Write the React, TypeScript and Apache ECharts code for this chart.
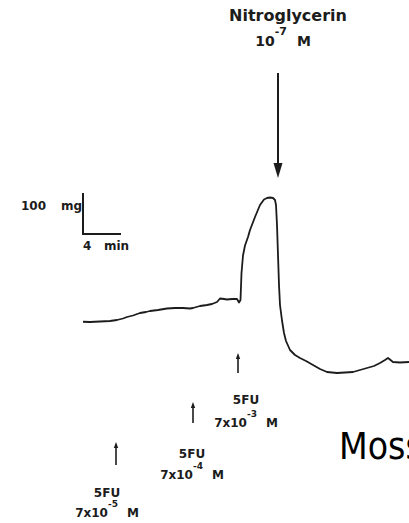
import React, { useEffect, useRef } from "react";
import * as echarts from "echarts";

// Trace: time (min) and tension (mg, relative to the post-nitroglycerin trough)
const timeMin = [8.3, 9.0, 10.0, 11.0, 11.7, 12.3, 12.7, 13.3, 14.0, 14.6, 15.0, 15.8, 16.7, 17.5, 18.3, 19.0, 19.3, 20.0, 20.7, 21.2, 21.7, 22.0, 22.4, 22.7, 23.2, 23.7, 23.9, 24.05, 24.15, 24.3, 24.5, 24.8, 25.0, 25.5, 26.0, 26.4, 26.7, 27.0, 27.3, 27.5, 27.6, 27.7, 27.8, 27.9, 28.0, 28.2, 28.4, 28.6, 29.0, 29.5, 30.0, 30.6, 31.3, 32.0, 32.7, 33.7, 34.5, 35.3, 36.0, 36.7, 37.4, 38.0, 38.5, 38.8, 39.3, 40.0, 40.9];
const tensionMg = [20.5, 20.4, 20.6, 20.8, 21.2, 21.8, 22.4, 23.0, 24.0, 24.4, 24.8, 25.2, 25.8, 26.0, 26.0, 25.8, 26.0, 26.8, 27.2, 27.6, 28.4, 29.8, 29.6, 29.4, 29.6, 29.6, 28.2, 29.2, 40.0, 47.0, 51.0, 54.4, 57.2, 62.4, 67.2, 69.4, 70.0, 70.2, 70.0, 69.2, 67.2, 59.2, 47.2, 35.2, 27.2, 21.0, 16.0, 12.8, 9.2, 7.2, 6.0, 4.8, 3.2, 1.6, 0.4, 0.0, 0.2, 0.4, 1.2, 2.0, 2.8, 4.0, 5.2, 6.0, 4.4, 4.2, 4.4];

// Drug additions
const fuLabel = "5FU";
const fuExponents = ["-5", "-4", "-3"];
const ntgLabel = "Nitroglycerin";
const ntgExponent = "-7";
const scaleYValue = "100";
const scaleYUnit = "mg";
const scaleXValue = "4";
const scaleXUnit = "min";
const sideText = "Moss";

const FONT = "'DejaVu Sans', sans-serif";
const INK = "#1c1c1c";

export default function App() {
  const ref = useRef<HTMLDivElement | null>(null);

  useEffect(() => {
    if (!ref.current) return;
    const chart = echarts.init(ref.current, undefined, { renderer: "svg" });

    const concText = (cx: number, bottom: number, exp: string, size: number) => ({
      type: "text",
      x: cx,
      y: bottom,
      style: {
        text: `{b|7x10}{s|${exp}}{m|M}`,
        align: "center",
        verticalAlign: "bottom",
        fill: INK,
        rich: {
          b: { fontFamily: FONT, fontWeight: "bold", fontSize: size, lineHeight: 20, fill: INK, verticalAlign: "bottom" },
          s: { fontFamily: FONT, fontWeight: "bold", fontSize: size - 3, lineHeight: 11, fill: INK, verticalAlign: "top" },
          m: { fontFamily: FONT, fontWeight: "bold", fontSize: size, lineHeight: 20, fill: INK, verticalAlign: "bottom", padding: [0, 0, 0, 9] },
        },
      },
    });

    const smallArrow = (x: number, top: number, bottom: number) => [
      { type: "line", shape: { x1: x, y1: top + 4, x2: x, y2: bottom }, style: { stroke: INK, lineWidth: 1.6 } },
      { type: "polygon", shape: { points: [[x - 2.2, top + 6], [x + 2.2, top + 6], [x, top]] }, style: { fill: INK } },
    ];

    const label = (cx: number, bottom: number, text: string, size: number) => ({
      type: "text",
      x: cx,
      y: bottom,
      style: { text, align: "center", verticalAlign: "bottom", font: `bold ${size}px ${FONT}`, fill: INK },
    });

    const fuCenters = [107, 192, 246];
    const fuTop = [497, 458, 404];
    const fuBottom = [517, 479, 427];
    const arrowX = [116, 193, 238];
    const arrowTop = [442, 402, 353];
    const arrowBottom = [465, 423, 373];

    const graphic: any[] = [];
    for (let i = 0; i < 3; i++) {
      graphic.push(label(fuCenters[i], fuTop[i] + 2, fuLabel, 12));
      graphic.push(concText(fuCenters[i], fuBottom[i] + 2, fuExponents[i], 12));
      graphic.push(...smallArrow(arrowX[i], arrowTop[i], arrowBottom[i]));
    }

    // Nitroglycerin
    graphic.push(label(288, 23, ntgLabel, 16));
    graphic.push({
      type: "text",
      x: 283,
      y: 48,
      style: {
        text: `{b|10}{s|${ntgExponent}}{m|M}`,
        align: "center",
        verticalAlign: "bottom",
        fill: INK,
        rich: {
          b: { fontFamily: FONT, fontWeight: "bold", fontSize: 14, lineHeight: 22, fill: INK, verticalAlign: "bottom" },
          s: { fontFamily: FONT, fontWeight: "bold", fontSize: 11, lineHeight: 12, fill: INK, verticalAlign: "top" },
          m: { fontFamily: FONT, fontWeight: "bold", fontSize: 14, lineHeight: 22, fill: INK, verticalAlign: "bottom", padding: [0, 0, 0, 10] },
        },
      },
    });
    graphic.push({ type: "line", shape: { x1: 278, y1: 73, x2: 278, y2: 166 }, style: { stroke: INK, lineWidth: 2 } });
    graphic.push({ type: "polygon", shape: { points: [[273.5, 163], [282.5, 163], [278, 178]] }, style: { fill: INK } });

    // Scale bar
    graphic.push({ type: "line", shape: { x1: 83, y1: 193, x2: 83, y2: 234 }, style: { stroke: INK, lineWidth: 2 } });
    graphic.push({ type: "line", shape: { x1: 82, y1: 234, x2: 121, y2: 234 }, style: { stroke: INK, lineWidth: 2 } });
    graphic.push({ type: "text", x: 21, y: 212, style: { text: scaleYValue, verticalAlign: "bottom", font: `bold 12px ${FONT}`, fill: INK } });
    graphic.push({ type: "text", x: 61, y: 212, style: { text: scaleYUnit, verticalAlign: "bottom", font: `bold 12px ${FONT}`, fill: INK } });
    graphic.push({ type: "text", x: 83, y: 252, style: { text: scaleXValue, verticalAlign: "bottom", font: `bold 12px ${FONT}`, fill: INK } });
    graphic.push({ type: "text", x: 104, y: 252, style: { text: scaleXUnit, verticalAlign: "bottom", font: `bold 12px ${FONT}`, fill: INK } });

    // Side text
    graphic.push({
      type: "text",
      x: 339,
      y: 465,
      style: { text: sideText, verticalAlign: "bottom", font: `37px 'Liberation Sans Narrow', 'DejaVu Sans Condensed', sans-serif`, fill: "#000" },
    });

    chart.setOption({
      animation: false,
      backgroundColor: "#ffffff",
      grid: { left: 0, right: 0, top: 0, bottom: 0 },
      xAxis: { type: "value", min: 0, max: 40.9, show: false },
      yAxis: { type: "value", min: -60, max: 149.2, show: false },
      series: [
        {
          type: "line",
          data: timeMin.map((t, i) => [t, tensionMg[i]]),
          showSymbol: false,
          smooth: false,
          lineStyle: { color: INK, width: 1.8, join: "round" },
        },
      ],
      graphic,
    });

    return () => chart.dispose();
  }, []);

  return (
    <div
      ref={ref}
      style={{ position: "absolute", left: 0, top: 0, width: 409, height: 523, overflow: "hidden", background: "#fff" }}
    />
  );
}
